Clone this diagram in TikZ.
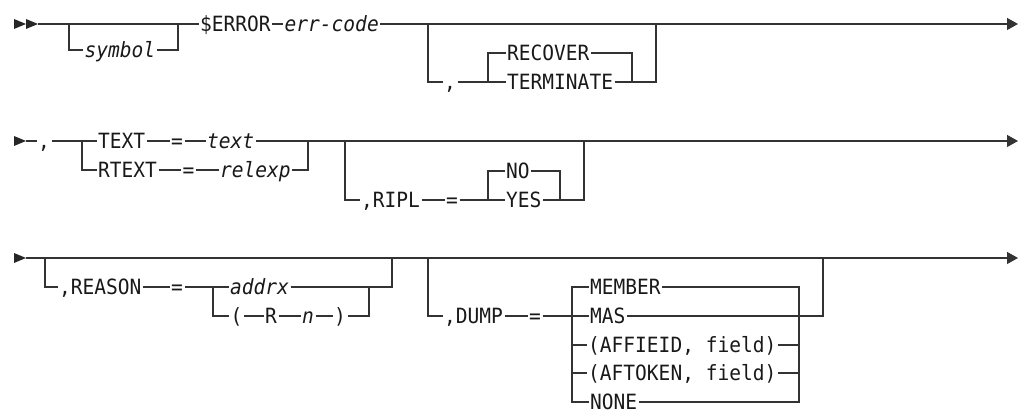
\documentclass[tikz,border=0pt]{standalone}
\usepackage{fontspec}
\newfontfamily\railmono[FakeStretch=0.93,ItalicFont={DejaVu Sans Mono Oblique}]{DejaVu Sans Mono}
\usetikzlibrary{arrows.meta}
\tikzset{
  kw/.style={font=\railmono\fontsize{21pt}{22pt}\selectfont, text=black!90, inner xsep=1.5pt, inner ysep=0pt, text height=15.2pt, text depth=0pt, anchor=west},
  var/.style={kw, font=\railmono\itshape\fontsize{21pt}{22pt}\selectfont},
  rail/.style={draw=black!80, line width=1.3pt},
  endarrow/.style={-{Triangle[length=11pt,width=12pt]}},
  starttip/.style={fill=black!85}
}
\begin{document}
\begin{tikzpicture}[x=1pt,y=-1pt]
\useasboundingbox (0,0) rectangle (1021,411);

% ---------------- Row 1 ----------------
\fill[starttip] (14,19) -- (26,24) -- (14,29) -- cycle;
\fill[starttip] (26,19) -- (38,24) -- (26,29) -- cycle;
\coordinate (s1) at (38,24);
\coordinate (symL) at (69,24);
\coordinate (symR) at (178,24);
\coordinate (e1) at (1018,24);
\node[var] (symbol) at (83,50) {symbol};
\node[kw] (error) at (198.5,24) {\$ERROR};
\node[var] (errcode) at (283,24) {err-code};
\coordinate (optL1) at (428,24);
\coordinate (optR1) at (656,24);
\node[kw] (comma1) at (442.5,82) {,};
\coordinate (chL1) at (488,82);
\coordinate (chR1) at (632,82);
\coordinate (optB1) at (656,82);
\node[kw] (recover) at (505.5,53) {RECOVER};
\node[kw] (terminate) at (505.5,82) {TERMINATE};

\draw[rail] (s1) -- (error.west);
\draw[rail] (symL) |- (symbol.west);
\draw[rail] (symbol.east) -| (symR);
\draw[rail] (error.east) -- (errcode.west);
\draw[rail,endarrow] (errcode.east) -- (e1);
\draw[rail] (optL1) |- (comma1.west);
\draw[rail] (comma1.east) -- (chL1);
\draw[rail] (chL1) |- (recover.west);
\draw[rail] (chL1) -- (terminate.west);
\draw[rail] (recover.east) -| (chR1);
\draw[rail] (terminate.east) -- (optB1) -- (optR1);

% ---------------- Row 2 ----------------
\fill[starttip] (14,136) -- (26,141) -- (14,146) -- cycle;
\coordinate (s2) at (26,141);
\coordinate (e2) at (1018,141);
\node[kw] (comma2) at (36.5,141) {,};
\coordinate (chL2) at (82,141);
\coordinate (chR2) at (308,141);
\node[kw] (textkw) at (96.5,141) {TEXT};
\node[kw] (rtextkw) at (96.5,170) {RTEXT};
\node[kw] (eq1) at (169.5,141) {=};
\node[kw] (eq2) at (181,170) {=};
\node[var] (textv) at (205.5,141) {text};
\node[var] (relexp) at (218.5,170) {relexp};
\coordinate (optL2) at (345,141);
\coordinate (optR2) at (584,141);
\coordinate (optB2) at (584,200);
\node[kw] (ripl) at (359.5,200) {,RIPL};
\node[kw] (eq3) at (444.5,200) {=};
\coordinate (chL3) at (488,200);
\coordinate (chR3) at (560,200);
\node[kw] (no) at (504.5,171) {NO};
\node[kw] (yes) at (504.5,200) {YES};

\draw[rail] (s2) -- (comma2.west);
\draw[rail] (comma2.east) -- (chL2);
\draw[rail] (chL2) -- (textkw.west);
\draw[rail] (chL2) |- (rtextkw.west);
\draw[rail] (textkw.east) -- (eq1.west);
\draw[rail] (eq1.east) -- (textv.west);
\draw[rail,endarrow] (textv.east) -- (e2);
\draw[rail] (rtextkw.east) -- (eq2.west);
\draw[rail] (eq2.east) -- (relexp.west);
\draw[rail] (relexp.east) -| (chR2);
\draw[rail] (optL2) |- (ripl.west);
\draw[rail] (ripl.east) -- (eq3.west);
\draw[rail] (eq3.east) -- (chL3);
\draw[rail] (chL3) |- (no.west);
\draw[rail] (chL3) -- (yes.west);
\draw[rail] (no.east) -| (chR3);
\draw[rail] (yes.east) -- (optB2) -- (optR2);

% ---------------- Row 3 ----------------
\fill[starttip] (14,253) -- (26,258) -- (14,263) -- cycle;
\coordinate (s3) at (26,258);
\coordinate (e3) at (1018,258);
\draw[rail,endarrow] (s3) -- (e3);

\coordinate (optL3) at (45,258);
\coordinate (optR3) at (392,258);
\coordinate (optB3) at (392,287);
\node[kw] (reason) at (57.5,287) {,REASON};
\node[kw] (eq4) at (169.5,287) {=};
\coordinate (chL4) at (213,287);
\coordinate (chR4) at (369,287);
\node[var] (addrx) at (228.5,287) {addrx};
\node[kw] (lpar) at (229,316) {(};
\node[kw] (rkw) at (263.5,316) {R};
\node[var] (nv) at (300.5,316) {n};
\node[kw] (rpar) at (332.5,316) {)};

\draw[rail] (optL3) |- (reason.west);
\draw[rail] (reason.east) -- (eq4.west);
\draw[rail] (eq4.east) -- (chL4);
\draw[rail] (chL4) -- (addrx.west);
\draw[rail] (chL4) |- (lpar.west);
\draw[rail] (lpar.east) -- (rkw.west);
\draw[rail] (rkw.east) -- (nv.west);
\draw[rail] (nv.east) -- (rpar.west);
\draw[rail] (rpar.east) -| (chR4);
\draw[rail] (addrx.east) -- (optB3) -- (optR3);

\coordinate (optL4) at (428,258);
\coordinate (optR4) at (823,258);
\coordinate (optB4) at (823,316);
\node[kw] (dump) at (442.5,316) {,DUMP};
\node[kw] (eq5) at (527.5,316) {=};
\coordinate (chL5) at (572,316);
\coordinate (chR5) at (799,287);
\coordinate (chRb) at (799,402);
\node[kw] (member) at (588.5,287) {MEMBER};
\node[kw] (mas) at (588.5,316) {MAS};
\node[kw] (affieid) at (586.5,345) {(AFFIEID, field)};
\node[kw] (aftoken) at (586.5,373) {(AFTOKEN, field)};
\node[kw] (none) at (588.5,402) {NONE};

\draw[rail] (optL4) |- (dump.west);
\draw[rail] (dump.east) -- (eq5.west);
\draw[rail] (eq5.east) -- (chL5);
\draw[rail] (member.west) -| (chL5);
\draw[rail] (chL5) |- (none.west);
\draw[rail] (chL5) -- (mas.west);
\draw[rail] (affieid.west -| chL5) -- (affieid.west);
\draw[rail] (aftoken.west -| chL5) -- (aftoken.west);
\draw[rail] (mas.east) -- (optB4) -- (optR4);
\draw[rail] (member.east) -- (chR5) -- (chRb) -- (none.east);
\draw[rail] (affieid.east) -- (affieid.east -| chR5);
\draw[rail] (aftoken.east) -- (aftoken.east -| chR5);
\end{tikzpicture}
\end{document}
